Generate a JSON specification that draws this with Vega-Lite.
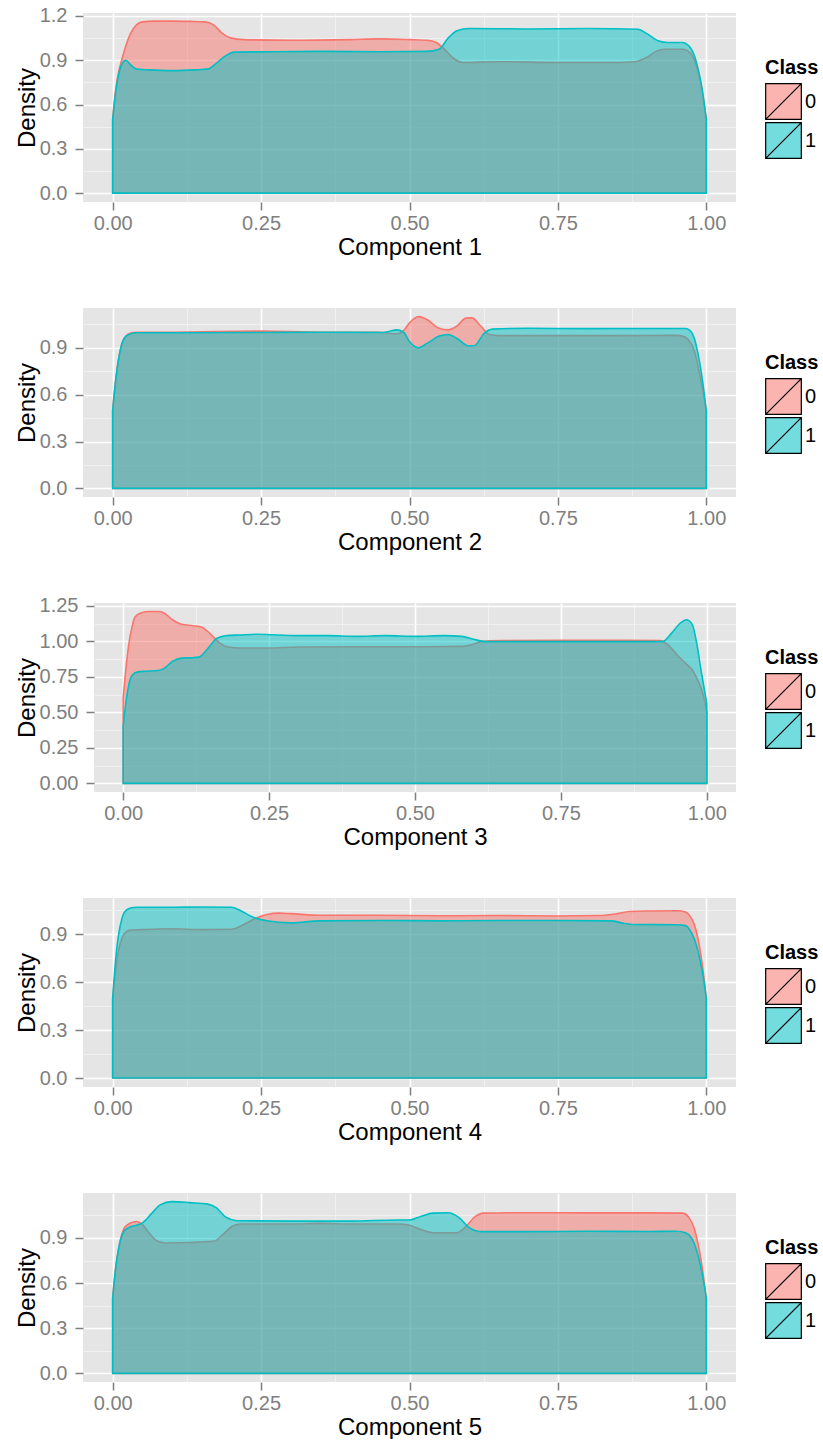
{
  "$schema": "https://vega.github.io/schema/vega-lite/v6.json",
  "background": "white",
  "padding": {"left": 15, "top": 5, "right": 0, "bottom": 0},
  "config": {
    "font": "Liberation Sans",
    "view": {"fill": "#E5E5E5", "stroke": null},
    "axis": {"domain": false, "labelFontSize": 20, "labelColor": "#7F7F7F", "tickColor": "#7F7F7F", "tickWidth": 1.5, "tickSize": 8, "titleFontSize": 24, "titleFontWeight": "normal", "titleColor": "black", "gridColor": "white", "gridWidth": 1.6, "labelOverlap": false},
    "axisX": {"labelPadding": 3, "titlePadding": 2},
    "axisY": {"labelPadding": 8, "titlePadding": 0},
    "legend": {"orient": "none", "legendY": 45, "titleFontSize": 20, "titleFontWeight": "bold", "titleColor": "black", "labelFontSize": 20, "labelColor": "black", "symbolType": "M-1,-1H1V1H-1Z M-1,1L1,-1", "symbolSize": 1270, "rowPadding": -4, "labelOffset": 3, "titlePadding": 5, "padding": 0,
      "symbolStrokeColor": "black", "symbolStrokeWidth": 1.2}
  },
  "datasets": {"dens": [
    {"c":1,"k":"0","x":0,"d":0.5},{"c":1,"k":"0","x":0.005,"d":0.7},{"c":1,"k":"0","x":0.01,"d":0.82},{"c":1,"k":"0","x":0.015,"d":0.9},{"c":1,"k":"0","x":0.02,"d":0.97},{"c":1,"k":"0","x":0.03,"d":1.08},{"c":1,"k":"0","x":0.04,"d":1.14},{"c":1,"k":"0","x":0.05,"d":1.16},{"c":1,"k":"0","x":0.07,"d":1.165},{"c":1,"k":"0","x":0.1,"d":1.165},{"c":1,"k":"0","x":0.13,"d":1.163},{"c":1,"k":"0","x":0.155,"d":1.16},{"c":1,"k":"0","x":0.17,"d":1.14},{"c":1,"k":"0","x":0.185,"d":1.08},{"c":1,"k":"0","x":0.2,"d":1.05},{"c":1,"k":"0","x":0.22,"d":1.04},{"c":1,"k":"0","x":0.3,"d":1.035},{"c":1,"k":"0","x":0.4,"d":1.04},{"c":1,"k":"0","x":0.45,"d":1.045},{"c":1,"k":"0","x":0.5,"d":1.04},{"c":1,"k":"0","x":0.53,"d":1.035},{"c":1,"k":"0","x":0.545,"d":1.02},{"c":1,"k":"0","x":0.56,"d":0.97},{"c":1,"k":"0","x":0.575,"d":0.91},{"c":1,"k":"0","x":0.59,"d":0.885},{"c":1,"k":"0","x":0.65,"d":0.89},{"c":1,"k":"0","x":0.75,"d":0.885},{"c":1,"k":"0","x":0.85,"d":0.885},{"c":1,"k":"0","x":0.88,"d":0.89},{"c":1,"k":"0","x":0.9,"d":0.92},{"c":1,"k":"0","x":0.915,"d":0.96},{"c":1,"k":"0","x":0.93,"d":0.975},{"c":1,"k":"0","x":0.96,"d":0.975},{"c":1,"k":"0","x":0.97,"d":0.96},{"c":1,"k":"0","x":0.98,"d":0.9},{"c":1,"k":"0","x":0.985,"d":0.84},{"c":1,"k":"0","x":0.99,"d":0.76},{"c":1,"k":"0","x":0.995,"d":0.64},{"c":1,"k":"0","x":1,"d":0.5},
    {"c":1,"k":"1","x":0,"d":0.5},{"c":1,"k":"1","x":0.005,"d":0.68},{"c":1,"k":"1","x":0.01,"d":0.8},{"c":1,"k":"1","x":0.015,"d":0.87},{"c":1,"k":"1","x":0.022,"d":0.9},{"c":1,"k":"1","x":0.03,"d":0.87},{"c":1,"k":"1","x":0.04,"d":0.84},{"c":1,"k":"1","x":0.06,"d":0.835},{"c":1,"k":"1","x":0.1,"d":0.83},{"c":1,"k":"1","x":0.14,"d":0.835},{"c":1,"k":"1","x":0.16,"d":0.84},{"c":1,"k":"1","x":0.175,"d":0.88},{"c":1,"k":"1","x":0.19,"d":0.93},{"c":1,"k":"1","x":0.205,"d":0.955},{"c":1,"k":"1","x":0.25,"d":0.957},{"c":1,"k":"1","x":0.35,"d":0.96},{"c":1,"k":"1","x":0.45,"d":0.958},{"c":1,"k":"1","x":0.53,"d":0.96},{"c":1,"k":"1","x":0.55,"d":0.975},{"c":1,"k":"1","x":0.565,"d":1.05},{"c":1,"k":"1","x":0.58,"d":1.1},{"c":1,"k":"1","x":0.6,"d":1.115},{"c":1,"k":"1","x":0.7,"d":1.112},{"c":1,"k":"1","x":0.8,"d":1.115},{"c":1,"k":"1","x":0.885,"d":1.11},{"c":1,"k":"1","x":0.9,"d":1.08},{"c":1,"k":"1","x":0.92,"d":1.03},{"c":1,"k":"1","x":0.935,"d":1.02},{"c":1,"k":"1","x":0.96,"d":1.02},{"c":1,"k":"1","x":0.97,"d":1.0},{"c":1,"k":"1","x":0.98,"d":0.93},{"c":1,"k":"1","x":0.985,"d":0.86},{"c":1,"k":"1","x":0.99,"d":0.77},{"c":1,"k":"1","x":0.995,"d":0.65},{"c":1,"k":"1","x":1,"d":0.5},
    {"c":2,"k":"0","x":0,"d":0.5},{"c":2,"k":"0","x":0.005,"d":0.69},{"c":2,"k":"0","x":0.01,"d":0.83},{"c":2,"k":"0","x":0.015,"d":0.92},{"c":2,"k":"0","x":0.02,"d":0.965},{"c":2,"k":"0","x":0.03,"d":0.995},{"c":2,"k":"0","x":0.04,"d":1.0},{"c":2,"k":"0","x":0.1,"d":1.0},{"c":2,"k":"0","x":0.25,"d":1.007},{"c":2,"k":"0","x":0.35,"d":1.0},{"c":2,"k":"0","x":0.45,"d":1.0},{"c":2,"k":"0","x":0.47,"d":0.99},{"c":2,"k":"0","x":0.48,"d":0.99},{"c":2,"k":"0","x":0.49,"d":1.01},{"c":2,"k":"0","x":0.5,"d":1.06},{"c":2,"k":"0","x":0.515,"d":1.1},{"c":2,"k":"0","x":0.53,"d":1.08},{"c":2,"k":"0","x":0.55,"d":1.025},{"c":2,"k":"0","x":0.565,"d":1.015},{"c":2,"k":"0","x":0.58,"d":1.04},{"c":2,"k":"0","x":0.595,"d":1.09},{"c":2,"k":"0","x":0.605,"d":1.092},{"c":2,"k":"0","x":0.62,"d":1.04},{"c":2,"k":"0","x":0.635,"d":0.985},{"c":2,"k":"0","x":0.65,"d":0.978},{"c":2,"k":"0","x":0.75,"d":0.978},{"c":2,"k":"0","x":0.85,"d":0.978},{"c":2,"k":"0","x":0.95,"d":0.98},{"c":2,"k":"0","x":0.96,"d":0.975},{"c":2,"k":"0","x":0.97,"d":0.95},{"c":2,"k":"0","x":0.98,"d":0.88},{"c":2,"k":"0","x":0.985,"d":0.8},{"c":2,"k":"0","x":0.99,"d":0.71},{"c":2,"k":"0","x":0.995,"d":0.61},{"c":2,"k":"0","x":1,"d":0.5},
    {"c":2,"k":"1","x":0,"d":0.5},{"c":2,"k":"1","x":0.005,"d":0.69},{"c":2,"k":"1","x":0.01,"d":0.83},{"c":2,"k":"1","x":0.015,"d":0.92},{"c":2,"k":"1","x":0.02,"d":0.965},{"c":2,"k":"1","x":0.03,"d":0.99},{"c":2,"k":"1","x":0.04,"d":0.997},{"c":2,"k":"1","x":0.1,"d":0.997},{"c":2,"k":"1","x":0.25,"d":0.998},{"c":2,"k":"1","x":0.35,"d":1.0},{"c":2,"k":"1","x":0.45,"d":0.998},{"c":2,"k":"1","x":0.465,"d":1.005},{"c":2,"k":"1","x":0.478,"d":1.015},{"c":2,"k":"1","x":0.49,"d":1.0},{"c":2,"k":"1","x":0.5,"d":0.94},{"c":2,"k":"1","x":0.515,"d":0.9},{"c":2,"k":"1","x":0.53,"d":0.93},{"c":2,"k":"1","x":0.55,"d":0.975},{"c":2,"k":"1","x":0.565,"d":0.985},{"c":2,"k":"1","x":0.58,"d":0.96},{"c":2,"k":"1","x":0.6,"d":0.912},{"c":2,"k":"1","x":0.61,"d":0.915},{"c":2,"k":"1","x":0.625,"d":0.99},{"c":2,"k":"1","x":0.64,"d":1.02},{"c":2,"k":"1","x":0.7,"d":1.025},{"c":2,"k":"1","x":0.8,"d":1.023},{"c":2,"k":"1","x":0.9,"d":1.024},{"c":2,"k":"1","x":0.965,"d":1.024},{"c":2,"k":"1","x":0.975,"d":1.0},{"c":2,"k":"1","x":0.98,"d":0.96},{"c":2,"k":"1","x":0.985,"d":0.88},{"c":2,"k":"1","x":0.99,"d":0.78},{"c":2,"k":"1","x":0.995,"d":0.65},{"c":2,"k":"1","x":1,"d":0.5},
    {"c":3,"k":"0","x":0,"d":0.6},{"c":3,"k":"0","x":0.005,"d":0.82},{"c":3,"k":"0","x":0.01,"d":0.99},{"c":3,"k":"0","x":0.015,"d":1.1},{"c":3,"k":"0","x":0.02,"d":1.17},{"c":3,"k":"0","x":0.03,"d":1.2},{"c":3,"k":"0","x":0.045,"d":1.21},{"c":3,"k":"0","x":0.06,"d":1.21},{"c":3,"k":"0","x":0.07,"d":1.2},{"c":3,"k":"0","x":0.085,"d":1.15},{"c":3,"k":"0","x":0.1,"d":1.12},{"c":3,"k":"0","x":0.12,"d":1.11},{"c":3,"k":"0","x":0.135,"d":1.1},{"c":3,"k":"0","x":0.15,"d":1.05},{"c":3,"k":"0","x":0.165,"d":0.99},{"c":3,"k":"0","x":0.18,"d":0.96},{"c":3,"k":"0","x":0.2,"d":0.953},{"c":3,"k":"0","x":0.25,"d":0.953},{"c":3,"k":"0","x":0.3,"d":0.96},{"c":3,"k":"0","x":0.4,"d":0.962},{"c":3,"k":"0","x":0.5,"d":0.962},{"c":3,"k":"0","x":0.58,"d":0.965},{"c":3,"k":"0","x":0.6,"d":0.98},{"c":3,"k":"0","x":0.615,"d":1.0},{"c":3,"k":"0","x":0.65,"d":1.005},{"c":3,"k":"0","x":0.75,"d":1.008},{"c":3,"k":"0","x":0.85,"d":1.008},{"c":3,"k":"0","x":0.92,"d":1.005},{"c":3,"k":"0","x":0.935,"d":0.97},{"c":3,"k":"0","x":0.95,"d":0.9},{"c":3,"k":"0","x":0.965,"d":0.84},{"c":3,"k":"0","x":0.975,"d":0.8},{"c":3,"k":"0","x":0.985,"d":0.72},{"c":3,"k":"0","x":0.992,"d":0.65},{"c":3,"k":"0","x":1,"d":0.5},
    {"c":3,"k":"1","x":0,"d":0.4},{"c":3,"k":"1","x":0.005,"d":0.58},{"c":3,"k":"1","x":0.01,"d":0.7},{"c":3,"k":"1","x":0.015,"d":0.76},{"c":3,"k":"1","x":0.025,"d":0.785},{"c":3,"k":"1","x":0.04,"d":0.79},{"c":3,"k":"1","x":0.06,"d":0.795},{"c":3,"k":"1","x":0.07,"d":0.81},{"c":3,"k":"1","x":0.085,"d":0.86},{"c":3,"k":"1","x":0.1,"d":0.882},{"c":3,"k":"1","x":0.12,"d":0.885},{"c":3,"k":"1","x":0.13,"d":0.89},{"c":3,"k":"1","x":0.145,"d":0.95},{"c":3,"k":"1","x":0.16,"d":1.02},{"c":3,"k":"1","x":0.175,"d":1.04},{"c":3,"k":"1","x":0.2,"d":1.045},{"c":3,"k":"1","x":0.23,"d":1.05},{"c":3,"k":"1","x":0.3,"d":1.04},{"c":3,"k":"1","x":0.35,"d":1.04},{"c":3,"k":"1","x":0.4,"d":1.035},{"c":3,"k":"1","x":0.45,"d":1.04},{"c":3,"k":"1","x":0.5,"d":1.035},{"c":3,"k":"1","x":0.55,"d":1.04},{"c":3,"k":"1","x":0.58,"d":1.035},{"c":3,"k":"1","x":0.6,"d":1.015},{"c":3,"k":"1","x":0.62,"d":0.998},{"c":3,"k":"1","x":0.7,"d":0.998},{"c":3,"k":"1","x":0.8,"d":0.998},{"c":3,"k":"1","x":0.9,"d":0.998},{"c":3,"k":"1","x":0.925,"d":1.0},{"c":3,"k":"1","x":0.94,"d":1.06},{"c":3,"k":"1","x":0.955,"d":1.13},{"c":3,"k":"1","x":0.965,"d":1.152},{"c":3,"k":"1","x":0.975,"d":1.12},{"c":3,"k":"1","x":0.983,"d":0.98},{"c":3,"k":"1","x":0.99,"d":0.8},{"c":3,"k":"1","x":0.995,"d":0.68},{"c":3,"k":"1","x":1,"d":0.56},
    {"c":4,"k":"0","x":0,"d":0.5},{"c":4,"k":"0","x":0.005,"d":0.68},{"c":4,"k":"0","x":0.01,"d":0.8},{"c":4,"k":"0","x":0.015,"d":0.87},{"c":4,"k":"0","x":0.02,"d":0.905},{"c":4,"k":"0","x":0.03,"d":0.928},{"c":4,"k":"0","x":0.05,"d":0.93},{"c":4,"k":"0","x":0.1,"d":0.935},{"c":4,"k":"0","x":0.15,"d":0.93},{"c":4,"k":"0","x":0.2,"d":0.932},{"c":4,"k":"0","x":0.22,"d":0.96},{"c":4,"k":"0","x":0.24,"d":1.0},{"c":4,"k":"0","x":0.26,"d":1.025},{"c":4,"k":"0","x":0.28,"d":1.033},{"c":4,"k":"0","x":0.3,"d":1.03},{"c":4,"k":"0","x":0.35,"d":1.02},{"c":4,"k":"0","x":0.45,"d":1.02},{"c":4,"k":"0","x":0.55,"d":1.017},{"c":4,"k":"0","x":0.65,"d":1.018},{"c":4,"k":"0","x":0.75,"d":1.015},{"c":4,"k":"0","x":0.82,"d":1.018},{"c":4,"k":"0","x":0.85,"d":1.03},{"c":4,"k":"0","x":0.87,"d":1.043},{"c":4,"k":"0","x":0.9,"d":1.047},{"c":4,"k":"0","x":0.95,"d":1.048},{"c":4,"k":"0","x":0.965,"d":1.04},{"c":4,"k":"0","x":0.975,"d":1.0},{"c":4,"k":"0","x":0.98,"d":0.96},{"c":4,"k":"0","x":0.985,"d":0.89},{"c":4,"k":"0","x":0.99,"d":0.79},{"c":4,"k":"0","x":0.995,"d":0.66},{"c":4,"k":"0","x":1,"d":0.5},
    {"c":4,"k":"1","x":0,"d":0.5},{"c":4,"k":"1","x":0.005,"d":0.74},{"c":4,"k":"1","x":0.01,"d":0.9},{"c":4,"k":"1","x":0.015,"d":0.99},{"c":4,"k":"1","x":0.02,"d":1.04},{"c":4,"k":"1","x":0.03,"d":1.065},{"c":4,"k":"1","x":0.04,"d":1.07},{"c":4,"k":"1","x":0.1,"d":1.07},{"c":4,"k":"1","x":0.15,"d":1.072},{"c":4,"k":"1","x":0.2,"d":1.07},{"c":4,"k":"1","x":0.215,"d":1.05},{"c":4,"k":"1","x":0.235,"d":1.01},{"c":4,"k":"1","x":0.26,"d":0.985},{"c":4,"k":"1","x":0.3,"d":0.972},{"c":4,"k":"1","x":0.35,"d":0.985},{"c":4,"k":"1","x":0.45,"d":0.987},{"c":4,"k":"1","x":0.55,"d":0.985},{"c":4,"k":"1","x":0.65,"d":0.987},{"c":4,"k":"1","x":0.75,"d":0.987},{"c":4,"k":"1","x":0.84,"d":0.985},{"c":4,"k":"1","x":0.86,"d":0.97},{"c":4,"k":"1","x":0.88,"d":0.962},{"c":4,"k":"1","x":0.95,"d":0.96},{"c":4,"k":"1","x":0.965,"d":0.955},{"c":4,"k":"1","x":0.975,"d":0.91},{"c":4,"k":"1","x":0.98,"d":0.87},{"c":4,"k":"1","x":0.985,"d":0.81},{"c":4,"k":"1","x":0.99,"d":0.73},{"c":4,"k":"1","x":0.995,"d":0.63},{"c":4,"k":"1","x":1,"d":0.5},
    {"c":5,"k":"0","x":0,"d":0.5},{"c":5,"k":"0","x":0.005,"d":0.7},{"c":5,"k":"0","x":0.01,"d":0.83},{"c":5,"k":"0","x":0.015,"d":0.92},{"c":5,"k":"0","x":0.02,"d":0.97},{"c":5,"k":"0","x":0.03,"d":1.0},{"c":5,"k":"0","x":0.04,"d":1.01},{"c":5,"k":"0","x":0.05,"d":0.99},{"c":5,"k":"0","x":0.06,"d":0.94},{"c":5,"k":"0","x":0.075,"d":0.88},{"c":5,"k":"0","x":0.09,"d":0.867},{"c":5,"k":"0","x":0.13,"d":0.87},{"c":5,"k":"0","x":0.17,"d":0.878},{"c":5,"k":"0","x":0.185,"d":0.92},{"c":5,"k":"0","x":0.2,"d":0.975},{"c":5,"k":"0","x":0.215,"d":0.993},{"c":5,"k":"0","x":0.3,"d":0.993},{"c":5,"k":"0","x":0.35,"d":0.997},{"c":5,"k":"0","x":0.4,"d":0.993},{"c":5,"k":"0","x":0.48,"d":0.993},{"c":5,"k":"0","x":0.5,"d":0.985},{"c":5,"k":"0","x":0.52,"d":0.955},{"c":5,"k":"0","x":0.54,"d":0.935},{"c":5,"k":"0","x":0.58,"d":0.935},{"c":5,"k":"0","x":0.595,"d":0.975},{"c":5,"k":"0","x":0.61,"d":1.04},{"c":5,"k":"0","x":0.625,"d":1.065},{"c":5,"k":"0","x":0.7,"d":1.068},{"c":5,"k":"0","x":0.8,"d":1.067},{"c":5,"k":"0","x":0.9,"d":1.067},{"c":5,"k":"0","x":0.96,"d":1.065},{"c":5,"k":"0","x":0.97,"d":1.04},{"c":5,"k":"0","x":0.98,"d":0.96},{"c":5,"k":"0","x":0.985,"d":0.88},{"c":5,"k":"0","x":0.99,"d":0.78},{"c":5,"k":"0","x":0.995,"d":0.65},{"c":5,"k":"0","x":1,"d":0.5},
    {"c":5,"k":"1","x":0,"d":0.5},{"c":5,"k":"1","x":0.005,"d":0.7},{"c":5,"k":"1","x":0.01,"d":0.83},{"c":5,"k":"1","x":0.015,"d":0.91},{"c":5,"k":"1","x":0.02,"d":0.95},{"c":5,"k":"1","x":0.03,"d":0.975},{"c":5,"k":"1","x":0.04,"d":0.985},{"c":5,"k":"1","x":0.05,"d":1.0},{"c":5,"k":"1","x":0.065,"d":1.06},{"c":5,"k":"1","x":0.08,"d":1.12},{"c":5,"k":"1","x":0.1,"d":1.142},{"c":5,"k":"1","x":0.13,"d":1.135},{"c":5,"k":"1","x":0.16,"d":1.125},{"c":5,"k":"1","x":0.175,"d":1.1},{"c":5,"k":"1","x":0.19,"d":1.04},{"c":5,"k":"1","x":0.21,"d":1.015},{"c":5,"k":"1","x":0.3,"d":1.012},{"c":5,"k":"1","x":0.4,"d":1.012},{"c":5,"k":"1","x":0.48,"d":1.02},{"c":5,"k":"1","x":0.5,"d":1.02},{"c":5,"k":"1","x":0.52,"d":1.045},{"c":5,"k":"1","x":0.54,"d":1.065},{"c":5,"k":"1","x":0.565,"d":1.068},{"c":5,"k":"1","x":0.585,"d":1.03},{"c":5,"k":"1","x":0.6,"d":0.97},{"c":5,"k":"1","x":0.62,"d":0.942},{"c":5,"k":"1","x":0.7,"d":0.942},{"c":5,"k":"1","x":0.8,"d":0.945},{"c":5,"k":"1","x":0.9,"d":0.943},{"c":5,"k":"1","x":0.95,"d":0.945},{"c":5,"k":"1","x":0.965,"d":0.935},{"c":5,"k":"1","x":0.975,"d":0.9},{"c":5,"k":"1","x":0.98,"d":0.86},{"c":5,"k":"1","x":0.985,"d":0.8},{"c":5,"k":"1","x":0.99,"d":0.72},{"c":5,"k":"1","x":0.995,"d":0.62},{"c":5,"k":"1","x":1,"d":0.5}
  ],
  "strip": [{"x0": -0.075, "x1": -0.05, "y0": -0.0605, "y1": 1.27}]},
  "data": {"name": "dens"},
  "spacing": 41,
  "resolve": {"scale": {"x": "independent", "y": "independent", "color": "independent"}, "legend": {"color": "independent"}},
  "vconcat": [
    {
      "width": 653, "height": 189,
      "transform": [{"filter": "datum.c == 1"}],
      "mark": {"type": "area", "interpolate": "monotone", "fillOpacity": 0.5, "strokeWidth": 1.6, "strokeOpacity": 1, "stroke": {"expr": "datum.k == '0' ? '#F8766D' : '#00BFC4'"}},
      "encoding": {
        "x": {"field": "x", "type": "quantitative", "scale": {"domain": [-0.05, 1.05], "nice": false, "zero": false},
          "axis": {"title": "Component 1", "values": [0,0.125,0.25,0.375,0.5,0.625,0.75,0.875,1], "labelExpr": "round(datum.value*8)%2==1 ? '' : format(datum.value,'.2f')",
            "tickOpacity": {"condition": {"test": "round(datum.value*8)%2==1", "value": 0}, "value": 1},
            "gridColor": {"condition": {"test": "round(datum.value*8)%2==1", "value": "#F2F2F2"}, "value": "white"},
            "gridWidth": {"condition": {"test": "round(datum.value*8)%2==1", "value": 0.8}, "value": 1.6}}},
        "y": {"field": "d", "type": "quantitative", "stack": null, "scale": {"domain": [-0.06, 1.22], "nice": false, "zero": false},
          "axis": {"title": "Density", "values": [0,0.15,0.3,0.45,0.6,0.75,0.9,1.05,1.2], "labelExpr": "round(datum.value/0.15)%2==1 ? '' : format(datum.value,'.1f')",
            "tickOpacity": {"condition": {"test": "round(datum.value/0.15)%2==1", "value": 0}, "value": 1},
            "gridColor": {"condition": {"test": "round(datum.value/0.15)%2==1", "value": "#F2F2F2"}, "value": "white"},
            "gridWidth": {"condition": {"test": "round(datum.value/0.15)%2==1", "value": 0.8}, "value": 1.6}}},
        "y2": {"datum": 0},
        "color": {"field": "k", "type": "nominal", "scale": {"domain": ["0","1"], "range": ["#F8766D","#00BFC4"]},
          "legend": {"title": "Class", "legendX": 682, "encode": {"symbols": {"update": {"stroke": {"value": "black"}, "strokeWidth": {"value": 1.2}, "fillOpacity": {"value": 0.55}, "strokeOpacity": {"value": 1}, "opacity": {"value": 1}}}}}}
      }
    },
    {
      "width": 653, "height": 189,
      "transform": [{"filter": "datum.c == 2"}],
      "mark": {"type": "area", "interpolate": "monotone", "fillOpacity": 0.5, "strokeWidth": 1.6, "strokeOpacity": 1, "stroke": {"expr": "datum.k == '0' ? '#F8766D' : '#00BFC4'"}},
      "encoding": {
        "x": {"field": "x", "type": "quantitative", "scale": {"domain": [-0.05, 1.05], "nice": false, "zero": false},
          "axis": {"title": "Component 2", "values": [0,0.125,0.25,0.375,0.5,0.625,0.75,0.875,1], "labelExpr": "round(datum.value*8)%2==1 ? '' : format(datum.value,'.2f')",
            "tickOpacity": {"condition": {"test": "round(datum.value*8)%2==1", "value": 0}, "value": 1},
            "gridColor": {"condition": {"test": "round(datum.value*8)%2==1", "value": "#F2F2F2"}, "value": "white"},
            "gridWidth": {"condition": {"test": "round(datum.value*8)%2==1", "value": 0.8}, "value": 1.6}}},
        "y": {"field": "d", "type": "quantitative", "stack": null, "scale": {"domain": [-0.055, 1.155], "nice": false, "zero": false},
          "axis": {"title": "Density", "values": [0,0.15,0.3,0.45,0.6,0.75,0.9,1.05,1.136], "labelExpr": "datum.value > 1.1 || round(datum.value/0.15)%2==1 ? '' : format(datum.value,'.1f')",
            "tickOpacity": {"condition": {"test": "datum.value > 1.1 || round(datum.value/0.15)%2==1", "value": 0}, "value": 1},
            "gridOpacity": {"condition": {"test": "datum.value > 1.1", "value": 0}, "value": 1},
            "gridColor": {"condition": {"test": "round(datum.value/0.15)%2==1", "value": "#F2F2F2"}, "value": "white"},
            "gridWidth": {"condition": {"test": "round(datum.value/0.15)%2==1", "value": 0.8}, "value": 1.6}}},
        "y2": {"datum": 0},
        "color": {"field": "k", "type": "nominal", "scale": {"domain": ["0","1"], "range": ["#F8766D","#00BFC4"]},
          "legend": {"title": "Class", "legendX": 682, "encode": {"symbols": {"update": {"stroke": {"value": "black"}, "strokeWidth": {"value": 1.2}, "fillOpacity": {"value": 0.55}, "strokeOpacity": {"value": 1}, "opacity": {"value": 1}}}}}}
      }
    },
    {
      "width": 653, "height": 189,
      "resolve": {"axis": {"y": "independent"}},
      "layer": [
        {
          "data": {"name": "strip"},
          "mark": {"type": "rect", "fill": "white"},
          "encoding": {
            "x": {"field": "x0", "type": "quantitative", "axis": {"title": "Component 3"}},
            "x2": {"field": "x1"},
            "y": {"field": "y0", "type": "quantitative",
              "axis": {"orient": "left", "title": null, "labels": false, "ticks": false, "zindex": 0, "values": [0,0.125,0.25,0.375,0.5,0.625,0.75,0.875,1,1.125,1.25],
                "gridColor": {"condition": {"test": "round(datum.value*8)%2==1", "value": "#F2F2F2"}, "value": "white"},
                "gridWidth": {"condition": {"test": "round(datum.value*8)%2==1", "value": 0.8}, "value": 1.6}}},
            "y2": {"field": "y1"}
          }
        },
        {
          "transform": [{"filter": "datum.c == 3"}],
          "mark": {"type": "area", "interpolate": "monotone", "fillOpacity": 0.5, "strokeWidth": 1.6, "strokeOpacity": 1, "stroke": {"expr": "datum.k == '0' ? '#F8766D' : '#00BFC4'"}},
          "encoding": {
            "x": {"field": "x", "type": "quantitative", "scale": {"domain": [-0.05, 1.05], "range": [11, 653], "nice": false, "zero": false},
              "axis": {"title": "Component 3", "values": [0,0.125,0.25,0.375,0.5,0.625,0.75,0.875,1], "labelExpr": "round(datum.value*8)%2==1 ? '' : format(datum.value,'.2f')",
                "tickOpacity": {"condition": {"test": "round(datum.value*8)%2==1", "value": 0}, "value": 1},
                "gridColor": {"condition": {"test": "round(datum.value*8)%2==1", "value": "#F2F2F2"}, "value": "white"},
                "gridWidth": {"condition": {"test": "round(datum.value*8)%2==1", "value": 0.8}, "value": 1.6}}},
            "y": {"field": "d", "type": "quantitative", "stack": null, "scale": {"domain": [-0.0605, 1.27], "nice": false, "zero": false},
              "axis": {"orient": "left", "title": "Density", "grid": false, "offset": -11, "zindex": 1, "values": [0,0.125,0.25,0.375,0.5,0.625,0.75,0.875,1,1.125,1.25], "labelExpr": "round(datum.value*8)%2==1 ? '' : format(datum.value,'.2f')",
                "tickOpacity": {"condition": {"test": "round(datum.value*8)%2==1", "value": 0}, "value": 1}}},
            "y2": {"datum": 0},
            "color": {"field": "k", "type": "nominal", "scale": {"domain": ["0","1"], "range": ["#F8766D","#00BFC4"]},
              "legend": {"title": "Class", "legendX": 682, "encode": {"symbols": {"update": {"stroke": {"value": "black"}, "strokeWidth": {"value": 1.2}, "fillOpacity": {"value": 0.55}, "strokeOpacity": {"value": 1}, "opacity": {"value": 1}}}}}}
          }
        }
      ]
    },
    {
      "width": 653, "height": 189,
      "transform": [{"filter": "datum.c == 4"}],
      "mark": {"type": "area", "interpolate": "monotone", "fillOpacity": 0.5, "strokeWidth": 1.6, "strokeOpacity": 1, "stroke": {"expr": "datum.k == '0' ? '#F8766D' : '#00BFC4'"}},
      "encoding": {
        "x": {"field": "x", "type": "quantitative", "scale": {"domain": [-0.05, 1.05], "nice": false, "zero": false},
          "axis": {"title": "Component 4", "values": [0,0.125,0.25,0.375,0.5,0.625,0.75,0.875,1], "labelExpr": "round(datum.value*8)%2==1 ? '' : format(datum.value,'.2f')",
            "tickOpacity": {"condition": {"test": "round(datum.value*8)%2==1", "value": 0}, "value": 1},
            "gridColor": {"condition": {"test": "round(datum.value*8)%2==1", "value": "#F2F2F2"}, "value": "white"},
            "gridWidth": {"condition": {"test": "round(datum.value*8)%2==1", "value": 0.8}, "value": 1.6}}},
        "y": {"field": "d", "type": "quantitative", "stack": null, "scale": {"domain": [-0.056, 1.128], "nice": false, "zero": false},
          "axis": {"title": "Density", "values": [0,0.15,0.3,0.45,0.6,0.75,0.9,1.05,1.11], "labelExpr": "datum.value > 1.1 || round(datum.value/0.15)%2==1 ? '' : format(datum.value,'.1f')",
            "tickOpacity": {"condition": {"test": "datum.value > 1.1 || round(datum.value/0.15)%2==1", "value": 0}, "value": 1},
            "gridOpacity": {"condition": {"test": "datum.value > 1.1", "value": 0}, "value": 1},
            "gridColor": {"condition": {"test": "round(datum.value/0.15)%2==1", "value": "#F2F2F2"}, "value": "white"},
            "gridWidth": {"condition": {"test": "round(datum.value/0.15)%2==1", "value": 0.8}, "value": 1.6}}},
        "y2": {"datum": 0},
        "color": {"field": "k", "type": "nominal", "scale": {"domain": ["0","1"], "range": ["#F8766D","#00BFC4"]},
          "legend": {"title": "Class", "legendX": 682, "encode": {"symbols": {"update": {"stroke": {"value": "black"}, "strokeWidth": {"value": 1.2}, "fillOpacity": {"value": 0.55}, "strokeOpacity": {"value": 1}, "opacity": {"value": 1}}}}}}
      }
    },
    {
      "width": 653, "height": 189,
      "transform": [{"filter": "datum.c == 5"}],
      "mark": {"type": "area", "interpolate": "monotone", "fillOpacity": 0.5, "strokeWidth": 1.6, "strokeOpacity": 1, "stroke": {"expr": "datum.k == '0' ? '#F8766D' : '#00BFC4'"}},
      "encoding": {
        "x": {"field": "x", "type": "quantitative", "scale": {"domain": [-0.05, 1.05], "nice": false, "zero": false},
          "axis": {"title": "Component 5", "values": [0,0.125,0.25,0.375,0.5,0.625,0.75,0.875,1], "labelExpr": "round(datum.value*8)%2==1 ? '' : format(datum.value,'.2f')",
            "tickOpacity": {"condition": {"test": "round(datum.value*8)%2==1", "value": 0}, "value": 1},
            "gridColor": {"condition": {"test": "round(datum.value*8)%2==1", "value": "#F2F2F2"}, "value": "white"},
            "gridWidth": {"condition": {"test": "round(datum.value*8)%2==1", "value": 0.8}, "value": 1.6}}},
        "y": {"field": "d", "type": "quantitative", "stack": null, "scale": {"domain": [-0.057, 1.199], "nice": false, "zero": false},
          "axis": {"title": "Density", "values": [0,0.15,0.3,0.45,0.6,0.75,0.9,1.05,1.18], "labelExpr": "datum.value > 1.1 || round(datum.value/0.15)%2==1 ? '' : format(datum.value,'.1f')",
            "tickOpacity": {"condition": {"test": "datum.value > 1.1 || round(datum.value/0.15)%2==1", "value": 0}, "value": 1},
            "gridOpacity": {"condition": {"test": "datum.value > 1.1", "value": 0}, "value": 1},
            "gridColor": {"condition": {"test": "round(datum.value/0.15)%2==1", "value": "#F2F2F2"}, "value": "white"},
            "gridWidth": {"condition": {"test": "round(datum.value/0.15)%2==1", "value": 0.8}, "value": 1.6}}},
        "y2": {"datum": 0},
        "color": {"field": "k", "type": "nominal", "scale": {"domain": ["0","1"], "range": ["#F8766D","#00BFC4"]},
          "legend": {"title": "Class", "legendX": 682, "encode": {"symbols": {"update": {"stroke": {"value": "black"}, "strokeWidth": {"value": 1.2}, "fillOpacity": {"value": 0.55}, "strokeOpacity": {"value": 1}, "opacity": {"value": 1}}}}}}
      }
    }
  ]
}
